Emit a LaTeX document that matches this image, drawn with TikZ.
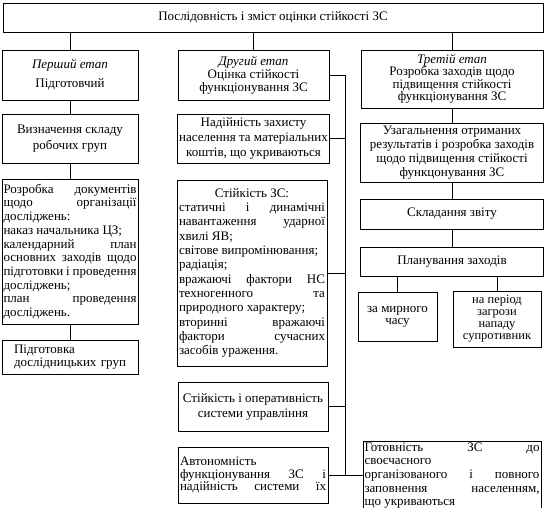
\documentclass[tikz,border=0pt]{standalone}
\usepackage{fontspec}
\setmainfont{Liberation Serif}
\usepackage{tikz}
\newcommand{\leftbrk}{\unskip\nobreak\hfil\break}
\hfuzz=10pt
\tikzset{
  block/.style={draw, rectangle, line width=0.8pt, inner xsep=1.5pt, inner ysep=1pt, align=center, font=\fontsize{13}{14}\selectfont},
  jblock/.style={block, align=justify},
  link/.style={draw, line width=0.8pt},
}

\begin{document}
\begin{tikzpicture}[x=1pt, y=-1pt]
        \useasboundingbox (0,0) rectangle (546,510);
        % Header and the three stages
        \node[block, minimum width=540, minimum height=29] (top) at (273,17.5) {Послідовність і зміст оцінки стійкості ЗС};
        \node[block, minimum width=136, minimum height=50] (stage1) at (70,75) {\textit{Перший етап}\\[5pt]Підготовчий};
        \node[block, minimum width=151, minimum height=50, font=\fontsize{13}{13}\selectfont] (stage2) at (253.5,75) {\textit{Другий етап}\\Оцінка стійкості\\функціонування ЗС};
        \node[block, minimum width=182, minimum height=58, font=\fontsize{13}{12.5}\selectfont] (stage3) at (452,79) {\textit{Третій етап}\\Розробка заходів щодо\\підвищення стійкості\\функціонування ЗС};

        \draw[link] (stage1.north) -- (stage1.north |- top.south);
        \draw[link] (stage2.north) -- (stage2.north |- top.south);
        \draw[link] (stage3.north) -- (stage3.north |- top.south);

        % First stage
        \node[block, minimum width=136, minimum height=49, font=\fontsize{13}{16}\selectfont] (staff) at (70,138.5) {Визначення складу\\робочих груп};
        \node[jblock, minimum width=136, minimum height=145, text width=133, font=\fontsize{13}{13.7}\selectfont] (docs) at (70,251.5) {Розробка документів\linebreak щодо організації\linebreak досліджень:\leftbrk наказ начальника ЦЗ;\leftbrk календарний план\linebreak основних заходів щодо\linebreak підготовки і проведення\linebreak досліджень;\leftbrk план проведення\linebreak досліджень.};
        \node[block, align=left, minimum width=136, minimum height=34, text width=112, font=\fontsize{13}{12.5}\selectfont] (groups) at (70,357) {Підготовка\\дослідницьких груп};

        \draw[link] (stage1) -- (staff);
        \draw[link] (staff) -- (docs);
        \draw[link] (docs) -- (groups);

        % Second stage
        \node[block, minimum width=151, minimum height=49, font=\fontsize{13}{15}\selectfont] (safety) at (253.5,138.5) {Надійність захисту\\населення та матеріальних\\коштів, що укриваються};
        \node[jblock, minimum width=150, minimum height=186, text width=146, font=\fontsize{13}{14.3}\selectfont] (resist) at (252,273) {\hspace*{\fill}Стійкість ЗС:\hspace*{\fill}\break статичні і динамічні\linebreak навантаження ударної\linebreak хвилі ЯВ;\leftbrk світове випромінювання;\leftbrk радіація;\leftbrk вражаючі фактори НС\linebreak техногенного та\linebreak природного характеру;\leftbrk вторинні вражаючі\linebreak фактори сучасних\linebreak засобів ураження.};
        \node[block, minimum width=150, minimum height=49, font=\fontsize{13}{15}\selectfont] (control) at (253,406.5) {Стійкість і оперативність\\системи управління};
        \node[jblock, minimum width=150, minimum height=56, text width=146, font=\fontsize{13}{12.5}\selectfont] (autonomy) at (253,475) {Автономність\leftbrk функціонування ЗС і\linebreak надійність\hfill системи\hfill їх};

        \coordinate (bus) at (345,75);
        \draw[link] (stage2.east) -- (bus) -- (bus |- autonomy.east);
        \draw[link] (safety.east) -- (safety.east -| bus);
        \draw[link] (resist.east) -- (resist.east -| bus);
        \draw[link] (control.east) -- (control.east -| bus);

        % Third stage
        \node[block, minimum width=183, minimum height=59, font=\fontsize{13}{14}\selectfont] (summary) at (452,152.5) {Узагальнення отриманих\\результатів і розробка заходів\\щодо підвищення стійкості\\функцонування ЗС};
        \node[block, minimum width=183, minimum height=30] (report) at (452,214) {Складання звіту};
        \node[block, minimum width=183, minimum height=29] (plan) at (452,261.5) {Планування заходів};
        \node[block, minimum width=79, minimum height=49, font=\fontsize{13}{12}\selectfont] (peace) at (397.5,316.5) {за мирного\\часу};
        \node[block, minimum width=88, minimum height=56, font=\fontsize{12.5}{12}\selectfont] (threat) at (497,319) {на період\\загрози\\нападу\\супротивник};
        \begin{scope}
            \clip (360,440) rectangle (546,507.6);
            \node[jblock, minimum width=178, minimum height=63, text width=175, font=\fontsize{13}{13.7}\selectfont] (ready) at (452,475.5) {Готовність ЗС до\linebreak своєчасного\leftbrk організованого і повного\linebreak заповнення населенням,\linebreak що укриваються};
        \end{scope}

        \draw[link] (stage3) -- (summary);
        \draw[link] (summary) -- (report);
        \draw[link] (report) -- (plan);
        \draw[link] (peace.north) -- (peace.north |- plan.south);
        \draw[link] (threat.north) -- (threat.north |- plan.south);
        \draw[link] (autonomy.east) -- (autonomy.east -| ready.west);
    \end{tikzpicture}
\end{document}
